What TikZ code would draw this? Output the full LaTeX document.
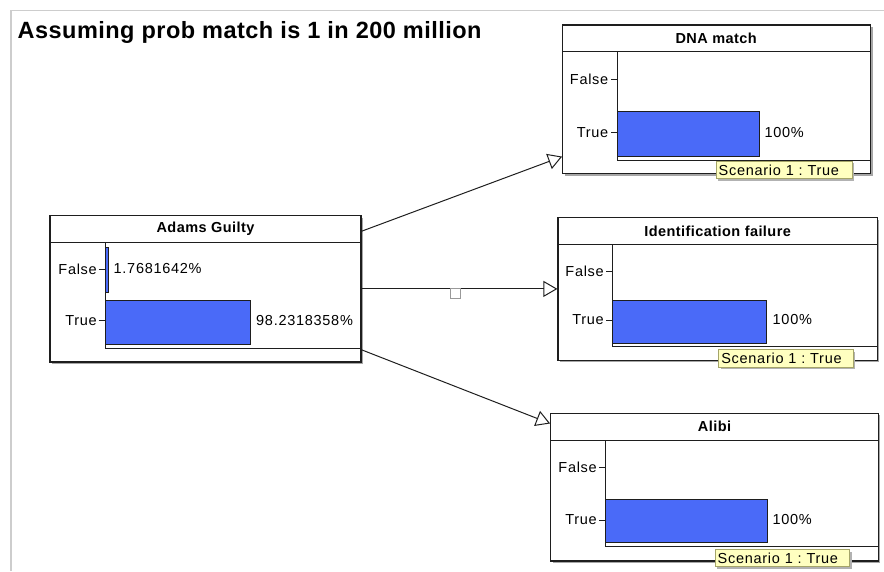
\documentclass[tikz,border=0pt]{standalone}
\usepackage{fontspec}
\setmainfont{Liberation Sans}
\newfontfamily\lblfont[LetterSpace=5]{Liberation Sans}
\newfontfamily\hdrfont[LetterSpace=3]{Liberation Sans}
\newfontfamily\ttlfont[LetterSpace=2]{Liberation Sans}
\usetikzlibrary{arrows.meta,shadows}
\definecolor{barblue}{RGB}{74,106,248}
\definecolor{tipfill}{RGB}{255,255,192}
\definecolor{tipdraw}{RGB}{165,165,105}
\definecolor{framegray}{RGB}{205,205,205}
\definecolor{boxline}{RGB}{30,30,30}
\frenchspacing
\tikzset{
  netbox/.style={rectangle, draw=boxline, line width=1.2pt, fill=white, inner sep=0pt,
    drop shadow={shadow xshift=2pt, shadow yshift=-2pt, fill=black!35, opacity=1}},
  innerline/.style={draw=boxline, line width=1pt},
  barbox/.style={draw=boxline, line width=1pt, fill=barblue},
  lbl/.style={inner sep=0pt, font=\lblfont\fontsize{14.5}{17}\selectfont},
  hdr/.style={inner sep=0pt, font=\hdrfont\bfseries\fontsize{14.5}{17}\selectfont},
  ttl/.style={inner sep=0pt, font=\ttlfont\bfseries\fontsize{23.5}{27}\selectfont},
  tipbox/.style={rectangle, draw=tipdraw, line width=1pt, fill=tipfill, anchor=north west,
    inner xsep=2.5pt, inner ysep=0pt, align=left, font=\lblfont\fontsize{14.5}{17}\selectfont,
    drop shadow={shadow xshift=2pt, shadow yshift=-2pt, fill=black!30, opacity=1}},
  conn/.style={draw=boxline, line width=1pt, -{Triangle[open, length=14pt, width=16pt]}},
  midsq/.style={rectangle, draw=black!40, line width=0.8pt, fill=white, minimum size=10pt, inner sep=0pt}
}
\begin{document}
\begin{tikzpicture}[x=1pt,y=-1pt]
\useasboundingbox (0,0) rectangle (884,571);
\draw[framegray, line width=1.5pt] (11,571) -- (11,10.5) -- (884,10.5);
\node[ttl, anchor=base west] (title) at (17.5,38.5) {Assuming prob match is 1 in 200 million};

% boxes
\node[netbox, minimum width=311pt, minimum height=146.3pt] (adams) at (205.5,288.9) {};
\node[netbox, minimum width=308pt, minimum height=148.7pt] (dna) at (716.7,99.35) {};
\node[netbox, minimum width=319.3pt, minimum height=142.4pt] (ident) at (717.65,288.9) {};
\node[netbox, minimum width=327.6pt, minimum height=147.7pt] (alibi) at (714.5,487.15) {};

% connectors
\draw[conn] (adams) -- (dna);
\draw[conn] (adams) -- (ident);
\draw[conn] (adams) -- (alibi);
\node[midsq] (mid) at (455.4,293.8) {};

% Adams Guilty
\node[hdr] (adamsT) at (205.5,229.2) {Adams Guilty};
\draw[innerline] (50,242.7) -- (361,242.7);
\draw[innerline] (105,242.7) -- (105,348) -- (361,348);
\draw[barbox] (105,247.7) rectangle (108.3,292);
\draw[barbox] (105,300) rectangle (250,344);
\draw[innerline] (98.5,269) -- (105,269);
\draw[innerline] (98.5,320.7) -- (105,320.7);
\node[lbl, anchor=east] (adamsF) at (97,269) {False};
\node[lbl, anchor=east] (adamsTr) at (97,320.7) {True};
\node[lbl, anchor=west] (adamsP1) at (113.5,269) {1.7681642\%};
\node[lbl, anchor=west] (adamsP2) at (256,320.7) {98.2318358\%};

% DNA match
\node[hdr] (dnaT) at (716.2,38.35) {DNA match};
\draw[innerline] (562.7,51.7) -- (870.7,51.7);
\draw[innerline] (617.3,51.7) -- (617.3,160.7) -- (870.7,160.7);
\draw[barbox] (617.3,111.3) rectangle (759.3,156.3);
\draw[innerline] (611,79.3) -- (617.3,79.3);
\draw[innerline] (611,132.7) -- (617.3,132.7);
\node[lbl, anchor=east] (dnaF) at (608.5,79.3) {False};
\node[lbl, anchor=east] (dnaTr) at (608.5,132.7) {True};
\node[lbl, anchor=west] (dnaP) at (764.3,132.7) {100\%};
\node[tipbox, minimum height=17.6pt, text width=131pt] (tip1) at (715.7,160.7) {Scenario 1 : True};

% Identification failure
\node[hdr] (identT) at (717.65,231.5) {Identification failure};
\draw[innerline] (558,244.7) -- (877.3,244.7);
\draw[innerline] (612.7,244.7) -- (612.7,346.7) -- (877.3,346.7);
\draw[barbox] (612.7,300) rectangle (766,343.3);
\draw[innerline] (606.4,271.7) -- (612.7,271.7);
\draw[innerline] (606.4,320) -- (612.7,320);
\node[lbl, anchor=east] (identF) at (604,271.7) {False};
\node[lbl, anchor=east] (identTr) at (604,320) {True};
\node[lbl, anchor=west] (identP) at (772.5,320) {100\%};
\node[tipbox, minimum height=17.4pt, text width=129.4pt] (tip2) at (718.3,349.3) {Scenario 1 : True};

% Alibi
\node[hdr] (alibiT) at (714.5,426.65) {Alibi};
\draw[innerline] (550.7,440) -- (878.3,440);
\draw[innerline] (605.3,440) -- (605.3,546.7) -- (878.3,546.7);
\draw[barbox] (605.3,499) rectangle (767.7,542.7);
\draw[innerline] (599,467.7) -- (605.3,467.7);
\draw[innerline] (599,520) -- (605.3,520);
\node[lbl, anchor=east] (alibiF) at (597,467.7) {False};
\node[lbl, anchor=east] (alibiTr) at (597,520) {True};
\node[lbl, anchor=west] (alibiP) at (772.3,520) {100\%};
\node[tipbox, minimum height=16.7pt, text width=129.6pt] (tip3) at (714.7,549.3) {Scenario 1 : True};
\end{tikzpicture}
\end{document}
